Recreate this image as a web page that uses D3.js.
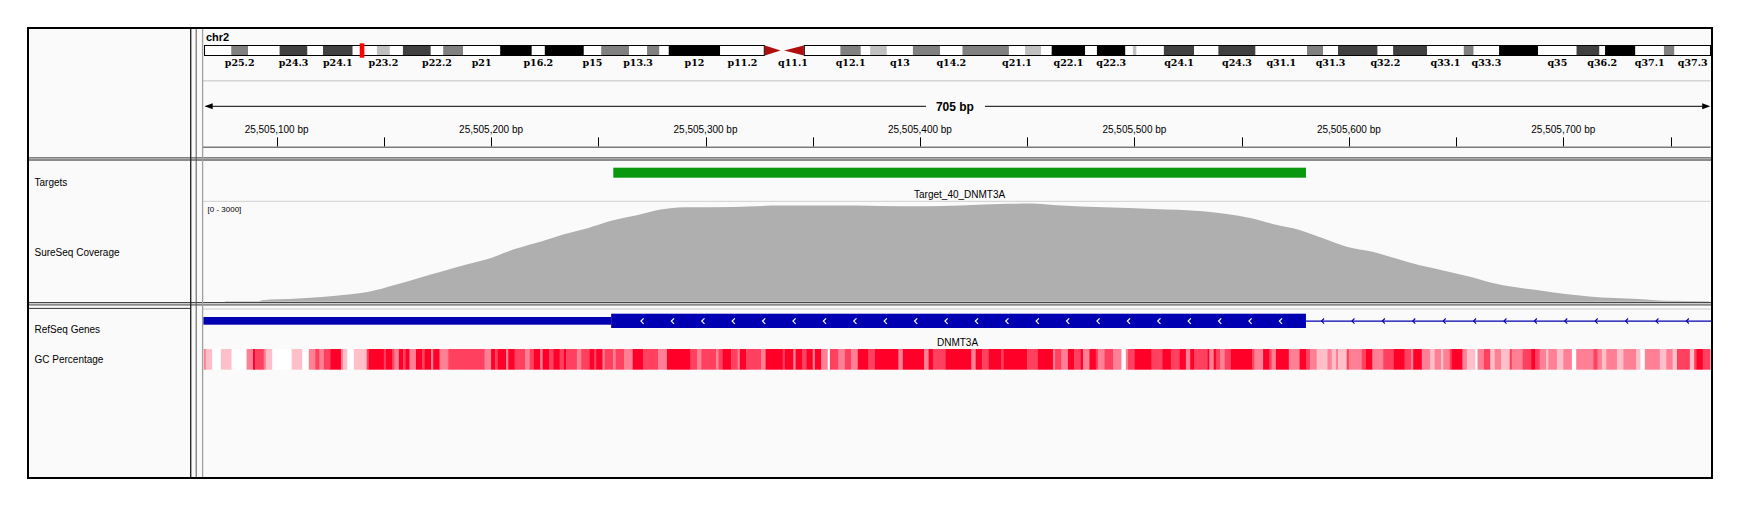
<!DOCTYPE html>
<html lang="en">
<head>
<meta charset="UTF-8" />
<title>IGV view - DNMT3A</title>
<style>
  body { margin: 0; background: #ffffff; }
  svg text { font-family: "Liberation Sans", Arial, sans-serif; fill: #000; }
  .bandLabel { font-family: "DejaVu Serif", serif; font-weight: bold; font-size: 9.5px; }
  .rulerLabel { font-size: 10px; }
  .trackName { font-size: 10px; }
</style>
</head>
<body>
<svg id="igv" width="1744" height="512"></svg>
<script src="https://cdn.jsdelivr.net/npm/d3@7"></script>
<script>
// ---- data -------------------------------------------------------------
const chromName = "chr2";
const chromLength = 243199373;
const regionStart = 25505066;
const regionEnd = 25505768.5;
const regionLabel = "705 bp";

// hg19 chr2 cytobands (start in Mb)
const bandStartsMb = [0,4.4,7.1,12.2,16.7,19.2,24,27.9,30,32.1,36.6,38.6,41.8,47.8,52.9,55,61.3,64.1,68.6,71.5,
  73.5,75,83.3,90.5,93.3,96.8,102.7,106,107.5,110.2,114.4,118.8,122.4,129.9,132.5,135.1,136.8,142.2,144.1,148.7,
  149.9,150.5,154.9,159.8,163.7,169.7,178,180.6,183,189.4,191.9,197.4,203.3,204.9,209,215.3,221.5,225.2,226.1,231,
  235.6,237.3];
const bandNames = ["p25.3","p25.2","p25.1","p24.3","p24.2","p24.1","p23.3","p23.2","p23.1","p22.3",
  "p22.2","p22.1","p21","p16.3","p16.2","p16.1","p15","p14","p13.3","p13.2",
  "p13.1","p12","p11.2","p11.1","q11.1","q11.2","q12.1","q12.2","q12.3","q13",
  "q14.1","q14.2","q14.3","q21.1","q21.2","q21.3","q22.1","q22.2","q22.3","q23.1",
  "q23.2","q23.3","q24.1","q24.2","q24.3","q31.1","q31.2","q31.3","q32.1","q32.2",
  "q32.3","q33.1","q33.2","q33.3","q34","q35","q36.1","q36.2","q36.3","q37.1",
  "q37.2","q37.3"];
const bandStains = ["gneg","gpos50","gneg","gpos75","gneg","gpos75","gneg","gpos25","gneg","gpos75",
  "gneg","gpos50","gneg","gpos100","gneg","gpos100","gneg","gpos50","gneg","gpos50",
  "gneg","gpos100","gneg","acen","acen","gneg","gpos50","gneg","gpos25","gneg",
  "gpos50","gneg","gpos50","gneg","gpos25","gneg","gpos100","gneg","gpos100","gneg",
  "gpos25","gneg","gpos75","gneg","gpos75","gneg","gpos50","gneg","gpos75","gneg",
  "gpos75","gneg","gpos50","gneg","gpos100","gneg","gpos75","gneg","gpos100","gneg",
  "gpos50","gneg"];
const labeledBands = ["p25.2","p24.3","p24.1","p23.2","p22.2","p21","p16.2","p15","p13.3","p12","p11.2",
  "q11.1","q12.1","q13","q14.2","q21.1","q22.1","q22.3","q24.1","q24.3","q31.1","q31.3","q32.2",
  "q33.1","q33.3","q35","q36.2","q37.1","q37.3"];

const trackNames = ["Targets", "SureSeq Coverage", "RefSeq Genes", "GC Percentage"];

// target interval
const targetName = "Target_40_DNMT3A";
const targetStart = 25505257, targetEnd = 25505580;

// coverage (offset from regionStart in bp, depth)
const coverageRange = [0, 3000];
const covOffset = [10,26,27,44,66,77,89,100,111,123,134,145,157,168,179,190,202,213,224,247,269,292,315,337,353,
  375,386,398,420,443,466,477,488,499,511,522,533,545,556,567,578,590,601,612,624,635,646,658,669,682,702];
const covDepth = [20,20,50,101,212,303,505,707,909,1121,1313,1576,1798,2020,2202,2424,2586,2757,2828,2838,2878,2878,2868,2858,2878,
  2929,2939,2889,2828,2778,2707,2626,2505,2323,2151,1899,1646,1495,1293,1091,939,757,566,434,333,232,162,111,81,30,15];

// RefSeq gene (minus strand)
const geneName = "DNMT3A";
const geneUtrStart = 25504990, geneCdsStart = 25505256, geneExonEnd = 25505580, geneIntronEnd = 25505900;

// GC percentage bins (start offset from regionStart in bp, GC %)
const gcOffset = [0,1,4,8,13,20,23,24,28,29,32,41,46,49,52,54,56,59,64,65,67,70,76,77,84,85,88,89,91,93,94,96,99,
  102,103,106,107,110,114,131,134,136,137,141,142,145,150,152,154,157,158,161,163,166,168,169,174,176,180,182,183,
  186,187,191,192,196,200,205,212,216,227,230,232,239,240,242,246,249,250,253,260,262,270,271,275,276,279,281,284,
  285,288,291,292,296,299,302,305,310,313,324,326,336,338,340,346,358,360,363,366,372,373,384,389,396,397,400,403,
  406,409,410,413,416,417,420,424,428,430,431,434,442,447,451,455,458,460,462,468,469,471,472,474,476,479,489,490,
  494,497,498,500,506,511,514,516,519,524,526,528,529,533,534,540,542,545,550,555,560,563,564,568,572,574,577,578,
  581,582,587,589,593,594,597,600,602,605,609,610,615,619,621,623,626,627,631,634,638,640,648,650,652,654,659,662,
  668,670,672,679,682,685,687,693,695,696,699];
const gcPercent = [50,40,30,40,30,50,70,60,50,40,30,40,30,50,60,50,60,70,50,40,30,40,60,70,60,70,60,50,70,60,70,50,70,
  60,70,50,70,50,60,50,70,60,70,50,70,60,50,60,70,50,70,60,70,60,70,60,50,60,70,60,70,
  50,60,50,60,50,70,60,50,70,60,50,60,50,60,70,60,50,70,60,50,70,60,70,50,70,60,70,50,
  70,50,30,60,50,60,50,70,60,70,50,70,50,70,60,70,50,70,60,70,60,70,60,70,50,60,50,70,
  60,70,50,70,60,50,60,50,30,50,60,70,60,70,60,70,50,70,60,70,50,70,60,50,60,70,60,50,
  70,60,50,70,50,70,60,50,40,50,40,50,40,60,50,60,70,50,60,70,60,50,70,50,40,50,40,50,
  60,70,50,40,30,50,60,40,50,40,60,50,60,70,60,50,40,50,40,50,30,50,60,50,40,50,40,50,
  40,30,50,40,50,40,60,40,60,70,60];
const gcDomain = [30, 70];

// ---- layout -----------------------------------------------------------
const svg = d3.select("#igv");
const frame = { left: 28, right: 1712, top: 28, bottom: 478 };
const nameRight = 190.7, attrLine = 196.2, dataLeft = 202.6, dataRight = 1710.5;

const x = d3.scaleLinear().domain([regionStart, regionEnd]).range([203.7, 1710.2]);
const xChr = d3.scaleLinear().domain([0, chromLength]).range([204, 1711]);
const yCov = d3.scaleLinear().domain(coverageRange).range([301.8, 201.5]);
const gcColor = d3.scaleLinear().domain(gcDomain).range(["#ffffff", "#ff0028"]).clamp(true);
const stainColor = { gneg: "#ffffff", gpos25: "#c0c0c0", gpos50: "#808080", gpos75: "#404040", gpos100: "#000000" };

svg.append("rect").attr("x", frame.left).attr("y", frame.top)
  .attr("width", frame.right - frame.left).attr("height", frame.bottom - frame.top)
  .attr("fill", "#fafafa");

svg.append("clipPath").attr("id", "dataClip").append("rect")
  .attr("x", dataLeft + 0.7).attr("y", frame.top).attr("width", dataRight - dataLeft).attr("height", frame.bottom - frame.top);

// ---- ideogram ---------------------------------------------------------
const bands = bandNames.map((name, i) => ({
  name: name,
  start: bandStartsMb[i] * 1e6,
  end: i + 1 < bandStartsMb.length ? bandStartsMb[i + 1] * 1e6 : chromLength,
  stain: bandStains[i]
}));
const ideoTop = 45.5, ideoH = 10;
const ideo = svg.append("g");

ideo.append("text").attr("x", 206).attr("y", 40.7)
  .style("font-weight", "bold").style("font-size", "11px").text(chromName);

ideo.selectAll("rect.band").data(bands.filter(b => b.stain !== "acen")).enter()
  .append("rect").attr("class", "band")
  .attr("x", d => xChr(d.start)).attr("width", d => xChr(d.end) - xChr(d.start))
  .attr("y", ideoTop).attr("height", ideoH)
  .attr("fill", d => stainColor[d.stain]);

const acen = bands.filter(b => b.stain === "acen");
ideo.selectAll("path.acen").data(acen).enter().append("path").attr("class", "acen")
  .attr("d", d => {
    const s = xChr(d.start), e = xChr(d.end);
    return d.name.startsWith("p")
      ? `M${s},${ideoTop}L${e - 1.5},${ideoTop + ideoH / 2}L${s},${ideoTop + ideoH}Z`
      : `M${e},${ideoTop}L${s + 2},${ideoTop + ideoH / 2}L${e},${ideoTop + ideoH}Z`;
  })
  .attr("fill", "#b20d0d");

// arm outlines
const pArmEnd = acen[0].start, qArmStart = acen[1].end;
[[0, pArmEnd], [qArmStart, chromLength]].forEach(arm => {
  ideo.append("rect").attr("x", xChr(arm[0]) + 0.5).attr("y", ideoTop)
    .attr("width", xChr(arm[1]) - xChr(arm[0]) - 1).attr("height", ideoH)
    .attr("fill", "none").attr("stroke", "#000").attr("stroke-width", 1);
});

ideo.selectAll("text.bandLabel").data(bands.filter(b => labeledBands.includes(b.name))).enter()
  .append("text").attr("class", "bandLabel")
  .attr("x", d => xChr((d.start + d.end) / 2)).attr("y", 65.7)
  .attr("text-anchor", "middle").text(d => d.name);

// current view marker
const viewMid = xChr((regionStart + regionEnd) / 2);
ideo.append("rect").attr("x", viewMid - 2.3).attr("y", 43.3).attr("width", 4.6).attr("height", 14.4)
  .attr("fill", "#ff0000");

// ---- ruler ------------------------------------------------------------
const ruler = svg.append("g");
ruler.append("line").attr("x1", dataLeft).attr("x2", dataRight).attr("y1", 80.7).attr("y2", 80.7)
  .attr("stroke", "#d4d4d4").attr("stroke-width", 1.5);

const spanY = 106.3, midX = (x.range()[0] + x.range()[1]) / 2;
ruler.append("line").attr("x1", x.range()[0] + 2).attr("x2", midX - 31).attr("y1", spanY).attr("y2", spanY).attr("stroke", "#000");
ruler.append("line").attr("x1", midX + 28).attr("x2", x.range()[1] - 2).attr("y1", spanY).attr("y2", spanY).attr("stroke", "#000");
ruler.append("path").attr("d", `M${x.range()[0] + 1},${spanY}l8,-3v6z`).attr("fill", "#000");
ruler.append("path").attr("d", `M${x.range()[1]},${spanY}l-8,-3v6z`).attr("fill", "#000");
ruler.append("text").attr("x", midX - 2).attr("y", spanY + 4.3).attr("text-anchor", "middle")
  .style("font-weight", "bold").style("font-size", "12px").text(regionLabel);

const tickVals = d3.range(Math.ceil(regionStart / 50) * 50, regionEnd, 50);
const fmt = d3.format(",");
ruler.selectAll("line.tick").data(tickVals).enter().append("line").attr("class", "tick")
  .attr("x1", d => Math.round(x(d)) + 0.5).attr("x2", d => Math.round(x(d)) + 0.5)
  .attr("y1", 137.3).attr("y2", 146.7).attr("stroke", "#000");
ruler.selectAll("text.rulerLabel").data(tickVals.filter(d => d % 100 === 0)).enter()
  .append("text").attr("class", "rulerLabel")
  .attr("x", d => x(d)).attr("y", 132.5).attr("text-anchor", "middle")
  .text(d => fmt(d) + " bp");
ruler.append("line").attr("x1", dataLeft).attr("x2", dataRight).attr("y1", 147.2).attr("y2", 147.2)
  .attr("stroke", "#7a7a7a").attr("stroke-width", 1.5);

// ---- feature panel ----------------------------------------------------
const data = svg.append("g").attr("clip-path", "url(#dataClip)");

data.append("rect").attr("x", x(targetStart)).attr("width", x(targetEnd) - x(targetStart))
  .attr("y", 167.7).attr("height", 10).attr("fill", "rgb(10,152,14)");
data.append("text").attr("x", x((targetStart + targetEnd) / 2)).attr("y", 197.6)
  .attr("text-anchor", "middle").style("font-size", "10px").text(targetName);

data.append("line").attr("x1", dataLeft).attr("x2", dataRight).attr("y1", 201.3).attr("y2", 201.3)
  .attr("stroke", "#cfcfcf");

const covPts = covOffset.map((o, i) => ({ pos: regionStart + o, depth: covDepth[i] }));
data.append("path").datum(covPts)
  .attr("d", d3.area().x(d => x(d.pos)).y0(yCov(0)).y1(d => yCov(d.depth)).curve(d3.curveMonotoneX))
  .attr("fill", "rgb(175,175,175)");
data.append("text").attr("x", 207.5).attr("y", 211.6).style("font-size", "8px")
  .text(`[${coverageRange[0]} - ${coverageRange[1]}]`);

// ---- lower panel: genes + GC ------------------------------------------
const geneColor = "#0000b2", geneY = 321.1;
data.append("line").attr("x1", x(geneExonEnd)).attr("x2", x(geneIntronEnd)).attr("y1", geneY).attr("y2", geneY)
  .attr("stroke", geneColor).attr("stroke-width", 1.2);
data.append("rect").attr("x", x(geneUtrStart)).attr("width", x(geneCdsStart) - x(geneUtrStart))
  .attr("y", 317).attr("height", 7.7).attr("fill", geneColor);
data.append("rect").attr("x", x(geneCdsStart)).attr("width", x(geneExonEnd) - x(geneCdsStart))
  .attr("y", 313.7).attr("height", 14.3).attr("fill", geneColor);

const chevStep = 30.4;
const exonChev = d3.range(x(geneCdsStart) + 31, x(geneExonEnd) - 8, chevStep);
data.selectAll("path.exonChev").data(exonChev).enter().append("path").attr("class", "exonChev")
  .attr("d", cx => `M${cx + 1.5},${geneY - 2.8}L${cx - 1.2},${geneY}L${cx + 1.5},${geneY + 2.8}`)
  .attr("fill", "none").attr("stroke", "#fff").attr("stroke-width", 1.2);
const intronChev = d3.range(x(geneExonEnd) + 16.6, x(geneIntronEnd), chevStep);
data.selectAll("path.intronChev").data(intronChev).enter().append("path").attr("class", "intronChev")
  .attr("d", cx => `M${cx + 1.5},${geneY - 2.6}L${cx - 1},${geneY}L${cx + 1.5},${geneY + 2.6}`)
  .attr("fill", "none").attr("stroke", geneColor).attr("stroke-width", 1.1);

data.append("text").attr("x", x((geneCdsStart + geneExonEnd) / 2) - 1).attr("y", 346)
  .attr("text-anchor", "middle").style("font-size", "10px").text(geneName);

const gcBins = gcOffset.map((o, i) => ({
  start: regionStart + o,
  end: regionStart + (i + 1 < gcOffset.length ? gcOffset[i + 1] : regionEnd - regionStart),
  gc: gcPercent[i]
}));
data.selectAll("rect.gc").data(gcBins).enter().append("rect").attr("class", "gc")
  .attr("x", d => x(d.start)).attr("width", d => x(d.end) - x(d.start) + 0.3)
  .attr("y", 349).attr("height", 20.7)
  .attr("fill", d => gcColor(d.gc));

// ---- track names ------------------------------------------------------
const nameY = [185.5, 256, 333, 363.3];
svg.selectAll("text.trackName").data(trackNames).enter().append("text").attr("class", "trackName")
  .attr("x", 34.5).attr("y", (d, i) => nameY[i]).text(d => d);

// ---- panel borders ----------------------------------------------------
const borders = svg.append("g").attr("fill", "none");
[[157.9, "#333", 1], [302.6, "#333", 1]].forEach(b =>
  borders.append("line").attr("x1", frame.left).attr("x2", frame.right).attr("y1", b[0]).attr("y2", b[0])
    .attr("stroke", b[1]).attr("stroke-width", b[2]));
[[160, "#8c8c8c", 2], [304.7, "#8c8c8c", 2]].forEach(b =>
  borders.append("line").attr("x1", frame.left).attr("x2", frame.right).attr("y1", b[0]).attr("y2", b[0])
    .attr("stroke", b[1]).attr("stroke-width", b[2]));
borders.append("line").attr("x1", frame.left).attr("x2", nameRight).attr("y1", 308.4).attr("y2", 308.4)
  .attr("stroke", "#333");
borders.append("line").attr("x1", dataLeft).attr("x2", frame.right).attr("y1", 309).attr("y2", 309)
  .attr("stroke", "#c8c8c8");
borders.append("line").attr("x1", nameRight).attr("x2", nameRight).attr("y1", frame.top).attr("y2", frame.bottom)
  .attr("stroke", "#2a2a2a").attr("stroke-width", 1.4);
borders.append("line").attr("x1", attrLine).attr("x2", attrLine).attr("y1", frame.top).attr("y2", frame.bottom)
  .attr("stroke", "#555").attr("stroke-width", 1);
borders.append("line").attr("x1", dataLeft).attr("x2", dataLeft).attr("y1", frame.top).attr("y2", frame.bottom)
  .attr("stroke", "#a0a0a0").attr("stroke-width", 1.3);
borders.append("rect").attr("x", frame.left).attr("y", frame.top)
  .attr("width", frame.right - frame.left).attr("height", frame.bottom - frame.top)
  .attr("stroke", "#000").attr("stroke-width", 2);
</script>
</body>
</html>
